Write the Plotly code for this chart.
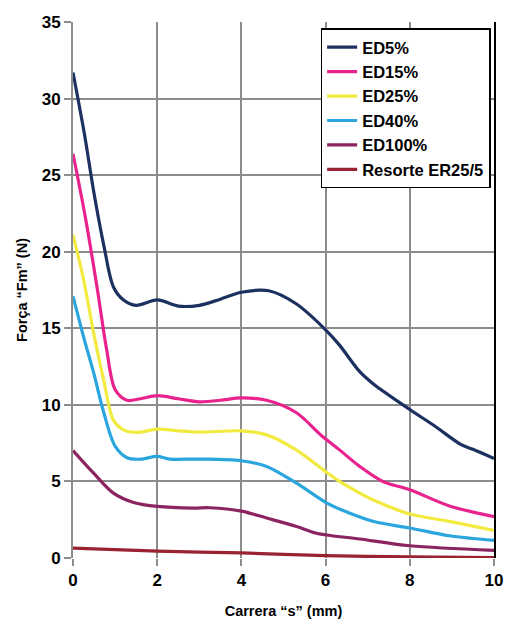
import plotly.graph_objects as go

# ---- data ----
names = ["ED5%", "ED15%", "ED25%", "ED40%", "ED100%", "Resorte ER25/5"]
colors = ["#1c3160", "#e9238d", "#f2ea3f", "#2aa5dd", "#8c2461", "#9a2231"]

ed5_x = [0, 0.27, 0.5, 0.74, 0.96, 1.2, 1.5, 2.0, 2.5, 3.0, 3.5, 4.0, 4.65, 5.3, 6.0, 6.33, 6.8, 7.12, 8.0, 8.6, 9.22, 9.5, 10]
ed5_y = [31.7, 27.7, 23.8, 20.3, 17.7, 16.85, 16.5, 16.85, 16.45, 16.5, 16.9, 17.35, 17.45, 16.6, 14.9, 13.9, 12.2, 11.4, 9.7, 8.6, 7.4, 7.1, 6.5]

ed15_x = [0, 0.29, 0.57, 0.8, 1.0, 1.28, 1.6, 2.0, 2.5, 3.0, 3.5, 4.0, 4.6, 5.3, 5.9, 6.33, 6.8, 7.36, 8.0, 8.94, 10]
ed15_y = [26.4, 22.3, 17.7, 13.6, 11.0, 10.3, 10.4, 10.6, 10.4, 10.2, 10.3, 10.45, 10.3, 9.5, 8.0, 7.06, 6.0, 5.0, 4.46, 3.4, 2.7]

ed25_x = [0, 0.25, 0.49, 0.73, 0.96, 1.2, 1.52, 2.0, 2.5, 3.0, 4.0, 4.6, 5.3, 6.02, 6.33, 6.81, 7.12, 8.0, 8.94, 10]
ed25_y = [21.1, 18.2, 14.7, 11.6, 9.0, 8.37, 8.2, 8.41, 8.3, 8.22, 8.3, 8.04, 7.06, 5.6, 5.0, 4.24, 3.8, 2.87, 2.39, 1.8]

ed40_x = [0, 0.25, 0.49, 0.73, 1.0, 1.28, 1.6, 2.0, 2.3, 3.0, 4.0, 4.6, 5.3, 6.02, 6.33, 7.12, 8.0, 8.94, 10]
ed40_y = [17.1, 14.45, 12.1, 9.5, 7.3, 6.55, 6.45, 6.63, 6.46, 6.46, 6.35, 5.98, 4.9, 3.6, 3.2, 2.4, 1.96, 1.45, 1.15]

ed100_x = [0, 0.49, 0.96, 1.44, 2.0, 2.86, 3.25, 4.0, 4.6, 5.31, 5.78, 6.81, 8.0, 10]
ed100_y = [7.02, 5.54, 4.24, 3.63, 3.37, 3.26, 3.28, 3.06, 2.61, 2.06, 1.62, 1.24, 0.8, 0.5]

res_x = [0, 2, 4, 6, 8, 10]
res_y = [0.65, 0.45, 0.33, 0.15, 0.07, 0.02]

x_ticks = [0, 2, 4, 6, 8, 10]
y_ticks = [0, 5, 10, 15, 20, 25, 30, 35]
x_title = "Carrera “s” (mm)"
y_title = "Força “Fm” (N)"

series_x = [ed5_x, ed15_x, ed25_x, ed40_x, ed100_x, res_x]
series_y = [ed5_y, ed15_y, ed25_y, ed40_y, ed100_y, res_y]

FONT = "Liberation Sans, Arial, sans-serif"
GRID = "#8c8c8c"

fig = go.Figure()
for n, c, xs, ys in zip(names, colors, series_x, series_y):
    fig.add_trace(go.Scatter(x=xs, y=ys, name="<b>" + n + "</b>", mode="lines",
                             line=dict(color=c, width=3.2, shape="spline", smoothing=0.9)))

# invisible trace on a right-side axis to draw the black right border
fig.add_trace(go.Scatter(x=[x_ticks[0]], y=[y_ticks[0]], yaxis="y2", showlegend=False,
                         mode="markers", marker=dict(opacity=0), hoverinfo="skip"))

fig.update_layout(
    width=508, height=619,
    margin=dict(l=73, r=14, t=22, b=61),
    paper_bgcolor="white", plot_bgcolor="white",
    font=dict(family=FONT, size=15, color="black"),
    xaxis=dict(range=[0, 10], tickvals=x_ticks, ticktext=["<b>%d</b>" % v for v in x_ticks],
               showgrid=True, gridcolor=GRID, gridwidth=2, automargin=False,
               zeroline=False, showline=False, ticks="outside", ticklen=7, tickwidth=2,
               tickcolor=GRID,
               tickfont=dict(family=FONT, size=17, color="black"),
               title=dict(text="<b>" + x_title + "</b>", font=dict(family=FONT, size=14.5), standoff=20)),
    yaxis=dict(range=[0, 35], tickvals=y_ticks, ticktext=["<b>%d</b>" % v for v in y_ticks],
               showgrid=True, gridcolor=GRID, gridwidth=2, automargin=False,
               zeroline=False, showline=True, linecolor=GRID, linewidth=2,
               ticks="outside", ticklen=7, tickwidth=2, tickcolor=GRID,
               tickfont=dict(family=FONT, size=17, color="black"),
               title=dict(text="<b>" + y_title + "</b>", font=dict(family=FONT, size=14.5), standoff=11)),
    yaxis2=dict(range=[0, 35], overlaying="y", side="right", showline=True, linecolor="black",
                linewidth=2, showgrid=False, zeroline=False, showticklabels=False, ticks="",
                automargin=False),
    legend=dict(x=0.992, y=0.988, xanchor="right", yanchor="top",
                bgcolor="white", bordercolor="black", borderwidth=1.5,
                font=dict(family=FONT, size=16.5, color="black"),
                tracegroupgap=0, itemwidth=30),
    showlegend=True,
)

fig.write_html("out.html", config={"displayModeBar": False},
               post_script="document.body.style.margin='0';document.body.style.overflow='hidden';")
